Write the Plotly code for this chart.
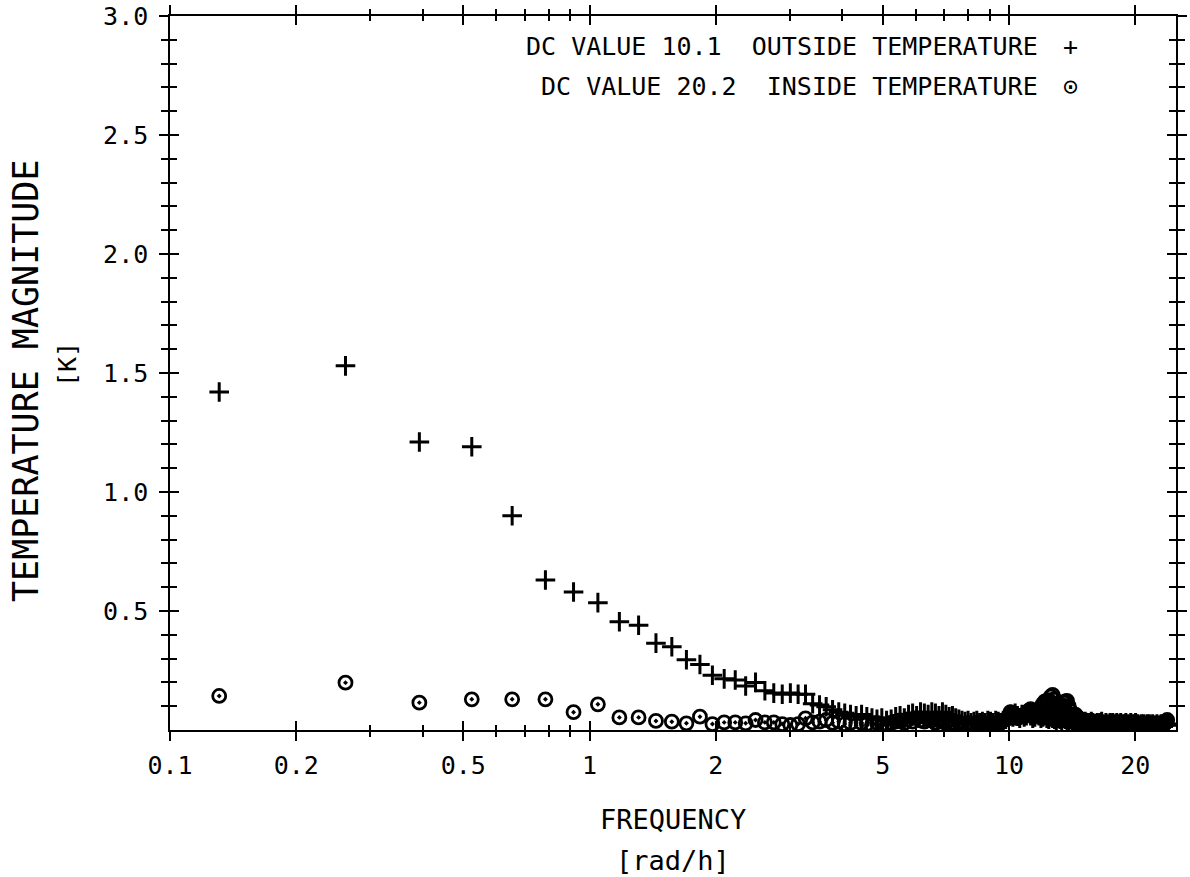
import math
import plotly.graph_objects as go

# ---------------- data ----------------
freq = [
    0.131, 0.262, 0.393, 0.524, 0.654, 0.785, 0.916, 1.047, 1.178, 1.309,
    1.440, 1.571, 1.702, 1.833, 1.963, 2.094, 2.225, 2.356, 2.487, 2.618,
    2.749, 2.880, 3.011, 3.142, 3.272, 3.403, 3.534, 3.665, 3.796, 3.927,
    4.058, 4.189, 4.320, 4.451, 4.581, 4.712, 4.843, 4.974, 5.105, 5.236,
    5.367, 5.498, 5.629, 5.760, 5.890, 6.021, 6.152, 6.283, 6.414, 6.545,
    6.676, 6.807, 6.938, 7.069, 7.199, 7.330, 7.461, 7.592, 7.723, 7.854,
    7.985, 8.116, 8.247, 8.378, 8.508, 8.639, 8.770, 8.901, 9.032, 9.163,
    9.294, 9.425, 9.556, 9.687, 9.817, 9.948, 10.079, 10.210, 10.341, 10.472,
    10.603, 10.734, 10.865, 10.996, 11.126, 11.257, 11.388, 11.519, 11.650, 11.781,
    11.912, 12.043, 12.174, 12.305, 12.435, 12.566, 12.697, 12.828, 12.959, 13.090,
    13.221, 13.352, 13.483, 13.614, 13.745, 13.875, 14.006, 14.137, 14.268, 14.399,
    14.530, 14.661, 14.792, 14.923, 15.054, 15.184, 15.315, 15.446, 15.577, 15.708,
    15.839, 15.970, 16.101, 16.232, 16.362, 16.493, 16.624, 16.755, 16.886, 17.017,
    17.148, 17.279, 17.410, 17.541, 17.671, 17.802, 17.933, 18.064, 18.195, 18.326,
    18.457, 18.588, 18.719, 18.850, 18.980, 19.111, 19.242, 19.373, 19.504, 19.635,
    19.766, 19.897, 20.028, 20.159, 20.289, 20.420, 20.551, 20.682, 20.813, 20.944,
    21.075, 21.206, 21.337, 21.468, 21.598, 21.729, 21.860, 21.991, 22.122, 22.253,
    22.384, 22.515, 22.646, 22.777, 22.907, 23.038, 23.169, 23.300, 23.431, 23.562,
    23.693, 23.824,
]

outside_temp = [
    1.42, 1.53, 1.21, 1.19, 0.90, 0.63, 0.58, 0.535, 0.455, 0.44,
    0.365, 0.35, 0.295, 0.275, 0.23, 0.215, 0.21, 0.185, 0.20, 0.165,
    0.155, 0.15, 0.155, 0.15, 0.15, 0.11, 0.105, 0.098, 0.085, 0.075,
    0.07, 0.065, 0.06, 0.065, 0.055, 0.05, 0.045, 0.05, 0.04, 0.045,
    0.055, 0.06, 0.05, 0.065, 0.07, 0.06, 0.075, 0.07, 0.065, 0.075,
    0.07, 0.06, 0.075, 0.065, 0.055, 0.06, 0.05, 0.045, 0.04, 0.035,
    0.04, 0.03, 0.035, 0.04, 0.03, 0.035, 0.03, 0.04, 0.035, 0.03,
    0.04, 0.035, 0.03, 0.04, 0.045, 0.06, 0.065, 0.055, 0.07, 0.06,
    0.05, 0.065, 0.055, 0.06, 0.07, 0.06, 0.05, 0.055, 0.065, 0.06,
    0.05, 0.055, 0.06, 0.05, 0.045, 0.055, 0.05, 0.045, 0.04, 0.05,
    0.045, 0.04, 0.05, 0.045, 0.04, 0.035, 0.045, 0.04, 0.035, 0.04,
    0.035, 0.03, 0.035, 0.03, 0.025, 0.035, 0.03, 0.025, 0.03, 0.035,
    0.03, 0.025, 0.02, 0.03, 0.025, 0.03, 0.035, 0.025, 0.02, 0.03,
    0.025, 0.02, 0.03, 0.025, 0.03, 0.02, 0.025, 0.03, 0.02, 0.025,
    0.03, 0.025, 0.02, 0.025, 0.03, 0.02, 0.025, 0.02, 0.03, 0.025,
    0.02, 0.025, 0.03, 0.02, 0.025, 0.02, 0.015, 0.025, 0.02, 0.025,
    0.02, 0.015, 0.025, 0.02, 0.025, 0.015, 0.02, 0.025, 0.02, 0.015,
    0.02, 0.025, 0.02, 0.015, 0.02, 0.025, 0.02, 0.015, 0.02, 0.025,
    0.02, 0.025,
]

inside_temp = [
    0.143, 0.199, 0.115, 0.129, 0.129, 0.129, 0.075, 0.108, 0.053, 0.053,
    0.038, 0.035, 0.028, 0.056, 0.025, 0.032, 0.032, 0.028, 0.042, 0.032,
    0.032, 0.025, 0.021, 0.025, 0.049, 0.032, 0.035, 0.042, 0.03, 0.035,
    0.025, 0.03, 0.02, 0.03, 0.025, 0.02, 0.03, 0.025, 0.02, 0.03,
    0.035, 0.04, 0.03, 0.045, 0.035, 0.05, 0.04, 0.035, 0.045, 0.04,
    0.03, 0.04, 0.035, 0.03, 0.04, 0.03, 0.025, 0.03, 0.025, 0.02,
    0.03, 0.025, 0.02, 0.03, 0.025, 0.03, 0.02, 0.025, 0.03, 0.025,
    0.02, 0.03, 0.035, 0.04, 0.045, 0.05, 0.075, 0.07, 0.06, 0.05,
    0.055, 0.06, 0.065, 0.07, 0.08, 0.088, 0.08, 0.07, 0.075, 0.085,
    0.095, 0.11, 0.12, 0.115, 0.125, 0.14, 0.148, 0.13, 0.11, 0.095,
    0.10, 0.105, 0.115, 0.12, 0.122, 0.10, 0.08, 0.065, 0.06, 0.065,
    0.055, 0.05, 0.045, 0.04, 0.035, 0.04, 0.035, 0.03, 0.035, 0.03,
    0.025, 0.03, 0.035, 0.03, 0.025, 0.03, 0.025, 0.02, 0.025, 0.03,
    0.025, 0.02, 0.025, 0.03, 0.025, 0.02, 0.025, 0.02, 0.03, 0.025,
    0.02, 0.025, 0.02, 0.025, 0.03, 0.025, 0.02, 0.025, 0.02, 0.025,
    0.03, 0.025, 0.02, 0.025, 0.02, 0.025, 0.02, 0.015, 0.02, 0.025,
    0.02, 0.025, 0.02, 0.015, 0.02, 0.025, 0.02, 0.025, 0.02, 0.02,
    0.025, 0.02, 0.015, 0.02, 0.025, 0.02, 0.025, 0.03, 0.025, 0.03,
    0.035, 0.042,
]

x_major = [0.1, 0.2, 0.5, 1, 2, 5, 10, 20]
x_labels = ["0.1", "0.2", "0.5", "1", "2", "5", "10", "20"]
x_minor = [0.3, 0.4, 0.6, 0.7, 0.8, 0.9, 3, 4, 6, 7, 8, 9]

y_major = [0.5, 1.0, 1.5, 2.0, 2.5, 3.0]
y_labels = ["0.5", "1.0", "1.5", "2.0", "2.5", "3.0"]
y_minor = [0.1, 0.2, 0.3, 0.4, 0.6, 0.7, 0.8, 0.9, 1.1, 1.2, 1.3, 1.4,
           1.6, 1.7, 1.8, 1.9, 2.1, 2.2, 2.3, 2.4, 2.6, 2.7, 2.8, 2.9]

legend_texts = ["DC VALUE 10.1  OUTSIDE TEMPERATURE",
                "DC VALUE 20.2  INSIDE TEMPERATURE"]
legend_symbols = ["+", "\u2299"]

# ---------------- figure ----------------
FONT = "DejaVu Sans Mono"
BLACK = "black"

fig = go.Figure()
fig.add_trace(go.Scatter(
    x=freq, y=inside_temp, mode="markers", name="INSIDE TEMPERATURE",
    marker=dict(symbol="circle-open-dot", size=13, color=BLACK,
                line=dict(color=BLACK, width=2.8)),
    showlegend=False, hoverinfo="x+y"))
fig.add_trace(go.Scatter(
    x=freq, y=outside_temp, mode="markers", name="OUTSIDE TEMPERATURE",
    marker=dict(symbol="cross-thin-open", size=14, color=BLACK,
                line=dict(color=BLACK, width=3)),
    showlegend=False, hoverinfo="x+y"))
# empty trace so the overlaid (inner-tick) axes are drawn
fig.add_trace(go.Scatter(x=[None], y=[None], xaxis="x2", yaxis="y2",
                         showlegend=False, hoverinfo="skip"))

xr = [-1, math.log10(25)]
yr = [0, 3.0]

base_x = dict(type="log", range=xr, showgrid=False, zeroline=False,
              showline=True, linecolor=BLACK, linewidth=1.5,
              tickcolor=BLACK, tickwidth=1.5, tickmode="array",
              tickvals=x_major, mirror="ticks", automargin=False)
base_y = dict(range=yr, showgrid=False, zeroline=False,
              showline=True, linecolor=BLACK, linewidth=1.5,
              tickcolor=BLACK, tickwidth=1.5, tickmode="array",
              tickvals=y_major, mirror="ticks", automargin=False)

fig.update_layout(
    width=1190, height=877,
    margin=dict(l=170, r=14, t=16, b=147),
    paper_bgcolor="white", plot_bgcolor="white",
    showlegend=False,
    xaxis=dict(**base_x, ticks="outside", ticklen=9, ticktext=x_labels,
               tickfont=dict(family=FONT, size=25, color=BLACK),
               ticklabelstandoff=3,
               minor=dict(ticks="outside", ticklen=5, tickmode="array",
                          tickvals=x_minor, tickcolor=BLACK, tickwidth=1.5)),
    xaxis2=dict(**base_x, ticks="inside", ticklen=9, overlaying="x",
                anchor="y2", side="bottom", showticklabels=False,
                minor=dict(ticks="inside", ticklen=5, tickmode="array",
                           tickvals=x_minor, tickcolor=BLACK, tickwidth=1.5)),
    yaxis=dict(**base_y, ticks="outside", ticklen=9, ticktext=y_labels,
               tickfont=dict(family=FONT, size=25, color=BLACK),
               ticklabelstandoff=6,
               minor=dict(ticks="outside", ticklen=7, tickmode="array",
                          tickvals=y_minor, tickcolor=BLACK, tickwidth=1.5)),
    yaxis2=dict(**base_y, ticks="inside", ticklen=9, overlaying="y",
                anchor="x2", side="left", showticklabels=False,
                minor=dict(ticks="inside", ticklen=7, tickmode="array",
                           tickvals=y_minor, tickcolor=BLACK, tickwidth=1.5)),
)

def px_x(p):
    return (p - 170) / 1006.0

def px_y(p):
    return (730 - p) / 714.0

annotations = [
    dict(text=legend_texts[0].replace(" ", "\u00a0"), x=px_x(1040), y=px_y(47),
         xanchor="right", yanchor="middle", font=dict(family=FONT, size=25, color=BLACK)),
    dict(text=legend_texts[1].replace(" ", "\u00a0"), x=px_x(1040), y=px_y(87),
         xanchor="right", yanchor="middle", font=dict(family=FONT, size=25, color=BLACK)),
    dict(text=legend_symbols[0], x=px_x(1070), y=px_y(47),
         xanchor="center", yanchor="middle", font=dict(family=FONT, size=25, color=BLACK)),
    dict(text=legend_symbols[1], x=px_x(1070), y=px_y(87),
         xanchor="center", yanchor="middle", font=dict(family=FONT, size=25, color=BLACK)),
    dict(text="FREQUENCY", x=px_x(673), y=px_y(819),
         xanchor="center", yanchor="middle", font=dict(family=FONT, size=27, color=BLACK)),
    dict(text="[rad/h]", x=px_x(673), y=px_y(860),
         xanchor="center", yanchor="middle", font=dict(family=FONT, size=27, color=BLACK)),
    dict(text="TEMPERATURE\u00a0MAGNITUDE", x=px_x(26), y=px_y(381), textangle=-90,
         xanchor="center", yanchor="middle", font=dict(family=FONT, size=35, color=BLACK)),
    dict(text="[K]", x=px_x(67), y=px_y(365), textangle=-90,
         xanchor="center", yanchor="middle", font=dict(family=FONT, size=25, color=BLACK)),
]
for a in annotations:
    a.update(xref="paper", yref="paper", showarrow=False)
fig.update_layout(annotations=annotations)

fig.write_html("out.html")
